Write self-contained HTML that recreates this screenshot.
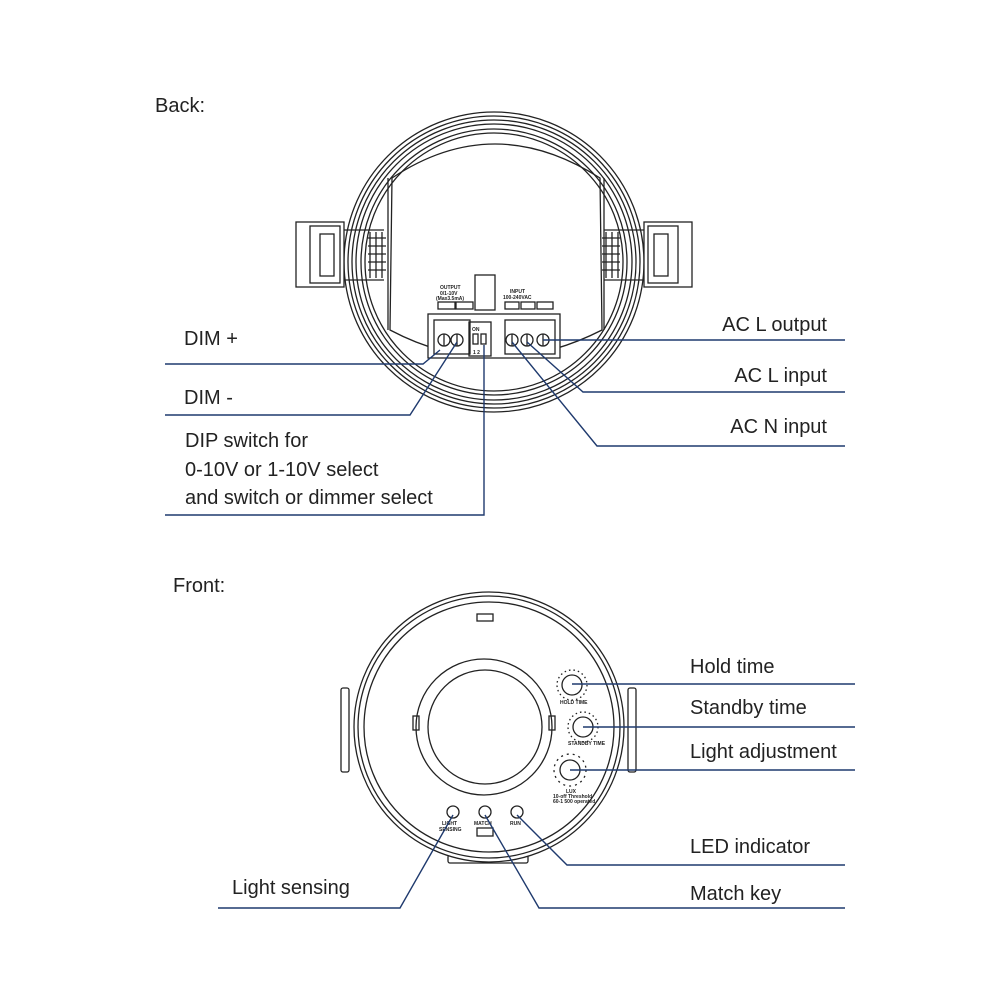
<!DOCTYPE html>
<html><head><meta charset="utf-8"><style>
body{margin:0;background:#fff}
svg{display:block}
text{font-family:"Liberation Sans",sans-serif;fill:#222;font-size:20px}
.s{font-size:5px;font-weight:bold}
</style></head><body>
<svg width="1000" height="1000" viewBox="0 0 1000 1000">
<rect width="1000" height="1000" fill="#fff"/>
<!-- BACK -->
<text x="155" y="112" font-size="22">Back:</text>
<g fill="none" stroke="#222" stroke-width="1.3">
<circle cx="494" cy="262" r="150"/>
<circle cx="494" cy="262" r="146"/>
<circle cx="494" cy="262" r="142"/>
<circle cx="494" cy="262" r="138"/>
<circle cx="494" cy="262" r="133"/>
<circle cx="494" cy="262" r="129"/>
<path d="M392 178 Q494 110 600 178 L602 330 Q494 385 390 330 Z"/>
<path d="M388 178 L388 330 M604 178 L604 330"/>
<!-- left clip -->
<rect x="296" y="222" width="48" height="65" fill="#fff"/>
<rect x="310" y="226" width="30" height="57"/>
<rect x="320" y="234" width="14" height="42"/>
<path d="M344 230 h40 M344 280 h40"/>
<path d="M370 232 v46 M376 232 v46 M382 232 v46"/>
<path d="M368 238 h18 M368 246 h18 M368 254 h18 M368 262 h18 M368 270 h18"/>
<!-- right clip -->
<rect x="644" y="222" width="48" height="65" fill="#fff"/>
<rect x="648" y="226" width="30" height="57"/>
<rect x="654" y="234" width="14" height="42"/>
<path d="M604 230 h40 M604 280 h40"/>
<path d="M606 232 v46 M612 232 v46 M618 232 v46"/>
<path d="M602 238 h18 M602 246 h18 M602 254 h18 M602 262 h18 M602 270 h18"/>
<!-- terminal block -->
<rect x="428" y="314" width="132" height="44" fill="#fff"/>
<rect x="434" y="320" width="36" height="34"/>
<rect x="469" y="322" width="22" height="34"/>
<rect x="505" y="320" width="50" height="34"/>
<circle cx="444" cy="340" r="6"/><circle cx="457" cy="340" r="6"/>
<circle cx="512" cy="340" r="6"/><circle cx="527" cy="340" r="6"/><circle cx="543" cy="340" r="6"/>
<path d="M444 334v12 M457 334v12 M512 334v12 M527 334v12 M543 334v12"/>
<rect x="473" y="334" width="5" height="10"/><rect x="481" y="334" width="5" height="10"/>
<rect x="438" y="302" width="17" height="7"/><rect x="456" y="302" width="17" height="7"/>
<rect x="475" y="275" width="20" height="35"/>
<rect x="505" y="302" width="14" height="7"/><rect x="521" y="302" width="14" height="7"/><rect x="537" y="302" width="16" height="7"/>
</g>
<text x="440" y="289" class="s">OUTPUT</text>
<text x="440" y="295" class="s">0/1-10V</text>
<text x="436" y="300" class="s">(Max3.5mA)</text>
<text x="510" y="293" class="s">INPUT</text>
<text x="503" y="299" class="s">100-240VAC</text>
<text x="472" y="331" class="s" font-size="7">ON</text>
<text x="473" y="354" class="s" font-size="8">1 2</text>
<g fill="none" stroke="#1f3a6e" stroke-width="1.4">
<path d="M165 364 H423 L440 350"/>
<path d="M165 415 H410 L457 342"/>
<path d="M165 515 H484 V345"/>
<path d="M543 340 H845"/>
<path d="M845 392 H583 L527 342"/>
<path d="M845 446 H597 L512 342"/>
</g>
<text x="184" y="345">DIM +</text>
<text x="184" y="404">DIM -</text>
<text x="185" y="447">DIP switch for</text>
<text x="185" y="476">0-10V or 1-10V select</text>
<text x="185" y="504">and switch or dimmer select</text>
<text x="827" y="331" text-anchor="end">AC L output</text>
<text x="827" y="382" text-anchor="end">AC L input</text>
<text x="827" y="433" text-anchor="end">AC N input</text>
<!-- FRONT -->
<text x="173" y="592" font-size="22">Front:</text>
<g fill="none" stroke="#222" stroke-width="1.3">
<rect x="341" y="688" width="8" height="84" rx="2" fill="#fff"/>
<rect x="628" y="688" width="8" height="84" rx="2" fill="#fff"/>
<rect x="448" y="855" width="80" height="8" rx="2" fill="#fff"/>
<circle cx="489" cy="727" r="135" fill="#fff"/>
<circle cx="489" cy="727" r="131"/>
<circle cx="489" cy="727" r="125"/>
<circle cx="484" cy="727" r="68"/>
<circle cx="485" cy="727" r="57"/>
<rect x="413" y="716" width="6" height="14"/><rect x="549" y="716" width="6" height="14"/>
<rect x="477" y="614" width="16" height="7"/>
<rect x="477" y="828" width="16" height="8"/>
<circle cx="572" cy="685" r="10"/>
<circle cx="583" cy="727" r="10"/>
<circle cx="570" cy="770" r="10"/>
<circle cx="453" cy="812" r="6"/><circle cx="485" cy="812" r="6"/><circle cx="517" cy="812" r="6"/>
<circle cx="572" cy="685" r="15" stroke-dasharray="1.5 3"/>
<circle cx="583" cy="727" r="15" stroke-dasharray="1.5 3"/>
<circle cx="570" cy="770" r="16" stroke-dasharray="2 4"/>
</g>
<text x="560" y="704" class="s" font-size="4">HOLD TIME</text>
<text x="568" y="745" class="s" font-size="4">STANDBY TIME</text>
<text x="566" y="793" class="s" font-size="4">LUX</text>
<text x="553" y="798" class="s" font-size="4">10-off Threshold</text>
<text x="553" y="803" class="s" font-size="4">60-1 500 operated</text>
<text x="442" y="825" class="s" font-size="5">LIGHT</text>
<text x="439" y="831" class="s" font-size="5">SENSING</text>
<text x="474" y="825" class="s" font-size="5">MATCH</text>
<text x="510" y="825" class="s" font-size="5">RUN</text>
<g fill="none" stroke="#1f3a6e" stroke-width="1.4">
<path d="M572 684 H855"/>
<path d="M583 727 H855"/>
<path d="M570 770 H855"/>
<path d="M517 815 L567 865 H845"/>
<path d="M485 815 L539 908 H845"/>
<path d="M453 815 L400 908 H218"/>
</g>
<text x="690" y="673">Hold time</text>
<text x="690" y="714">Standby time</text>
<text x="690" y="758">Light adjustment</text>
<text x="690" y="853">LED indicator</text>
<text x="690" y="900">Match key</text>
<text x="232" y="894">Light sensing</text>
</svg>
</body></html>
